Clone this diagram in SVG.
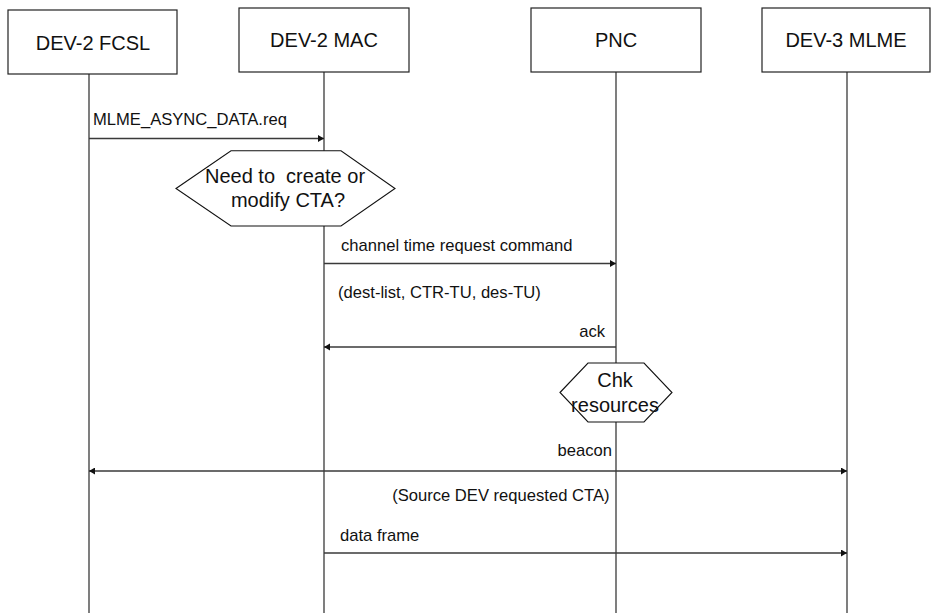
<svg xmlns="http://www.w3.org/2000/svg" width="931" height="615" viewBox="0 0 931 615">
<style>
.box{fill:#fff;stroke:#222;stroke-width:1.2}
.life{stroke:#3a3a3a;stroke-width:1.3;fill:none}
.msg{stroke:#3a3a3a;stroke-width:1.3;fill:none}
.hex{fill:#fff;stroke:#111;stroke-width:1.1}
.hd{font-family:"Liberation Sans",Arial,sans-serif;font-size:20px;fill:#111;text-anchor:middle}
.lb{font-family:"Liberation Sans",Arial,sans-serif;font-size:16.6px;fill:#111}
.r{text-anchor:end}
.hx{font-family:"Liberation Sans",Arial,sans-serif;font-size:20px;fill:#111;text-anchor:middle;white-space:pre}
</style>
<defs>
<marker id="ah" markerUnits="userSpaceOnUse" markerWidth="8" markerHeight="8" refX="6" refY="3.5" orient="auto">
<path d="M0,0 L6,3.5 L0,7 z" fill="#111"/>
</marker>
<marker id="ahs" markerUnits="userSpaceOnUse" markerWidth="8" markerHeight="8" refX="0" refY="3.5" orient="auto">
<path d="M6,0 L0,3.5 L6,7 z" fill="#111"/>
</marker>
</defs>
<g id="lifelines">
<line class="life" x1="89" y1="74" x2="89" y2="613"/>
<line class="life" x1="324" y1="72" x2="324" y2="613"/>
<line class="life" x1="616" y1="72" x2="616" y2="613"/>
<line class="life" x1="847" y1="72" x2="847" y2="613"/>
</g>
<g id="dev2-fcsl"><rect class="box" x="8" y="10" width="169" height="64"/><text class="hd" x="93" y="49.5">DEV-2 FCSL</text></g>
<g id="dev2-mac"><rect class="box" x="239" y="8" width="170" height="64"/><text class="hd" x="324" y="47">DEV-2 MAC</text></g>
<g id="pnc"><rect class="box" x="531" y="8" width="170" height="64"/><text class="hd" x="616" y="47">PNC</text></g>
<g id="dev3-mlme"><rect class="box" x="762" y="8" width="168" height="64"/><text class="hd" x="846" y="47">DEV-3 MLME</text></g>
<g id="connectors">
<line class="msg" x1="89" y1="138.5" x2="324" y2="138.5" marker-end="url(#ah)"/>
<line class="msg" x1="324" y1="263.5" x2="616" y2="263.5" marker-end="url(#ah)"/>
<line class="msg" x1="616" y1="347" x2="324" y2="347" marker-end="url(#ah)"/>
<line class="msg" x1="89" y1="471" x2="847" y2="471" marker-start="url(#ahs)" marker-end="url(#ah)"/>
<line class="msg" x1="324" y1="553" x2="847" y2="553" marker-end="url(#ah)"/>
</g>
<g id="labels">
<text class="lb" x="93" y="125">MLME_ASYNC_DATA.req</text>
<text class="lb" x="341" y="250.5">channel time request command</text>
<text class="lb" x="338" y="298">(dest-list, CTR-TU, des-TU)</text>
<text class="lb r" x="605" y="337">ack</text>
<text class="lb r" x="612" y="456">beacon</text>
<text class="lb r" x="609.5" y="500.5">(Source DEV requested CTA)</text>
<text class="lb" x="340" y="540.5">data frame</text>
</g>
<g id="decision-cta">
<polygon class="hex" points="176,188.5 231,150.7 341,150.7 395,188.5 341,226 231,226"/>
<text class="hx" x="285" y="182.5">Need to  create or</text>
<text class="hx" x="288" y="207">modify CTA?</text>
</g>
<g id="chk-resources">
<polygon class="hex" points="560,392.5 588,363 644,363 672,392.5 644,422 588,422"/>
<text class="hx" x="615" y="386.7">Chk</text>
<text class="hx" x="615" y="411.7">resources</text>
</g>
</svg>
